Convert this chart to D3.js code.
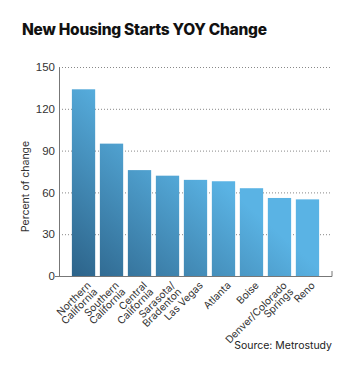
<!DOCTYPE html>
<meta charset="utf-8">
<style>
body { margin: 0; background: #fff; }
svg { font-family: "Inter", "Roboto", sans-serif; }
.grid line { stroke: #888; stroke-dasharray: 1,2; }
.axis text { fill: #333; font-size: 11.5px; }
.xlab { fill: #333; font-size: 10.2px; }
</style>
<svg width="354" height="366"></svg>
<script src="https://d3js.org/d3.v7.min.js"></script>
<script>

var regions = [["Northern", "California"], ["Southern", "California"], ["Central", "California"],
  ["Sarasota/", "Bradenton"], ["Las Vegas"], ["Atlanta"], ["Boise"], ["Denver/Colorado", "Springs"], ["Reno"]];
var change = [134, 95, 76, 72, 69, 68, 63, 56, 55];
var yTicks = [0, 30, 60, 90, 120, 150];

var svg = d3.select("svg");
var plotL = 59, plotR = 332, plotT = 67, plotB = 276;

var x = d3.scaleBand().domain(d3.range(regions.length)).range([plotL, plotR])
    .paddingInner(0.168).paddingOuter(0.46);
var y = d3.scaleLinear().domain([0, 150]).range([plotB, plotT]);

// gradient darker bottom-left, lighter up-right
var grad = svg.append("defs").append("linearGradient")
    .attr("id", "barfill").attr("gradientUnits", "userSpaceOnUse")
    .attr("x1", 70).attr("y1", 280).attr("x2", 185).attr("y2", 150);
grad.append("stop").attr("offset", 0).attr("stop-color", "#2b6187");
grad.append("stop").attr("offset", 1).attr("stop-color", "#5ab3e4");

svg.append("text")
    .attr("x", 22).attr("y", 35)
    .attr("font-size", 15.5).attr("font-weight", 800)
    .attr("fill", "#111")
    .attr("textLength", 245)
    .text("New Housing Starts YOY Change");

// gridlines
svg.append("g").attr("class", "grid")
  .selectAll("line").data(yTicks.slice(1)).enter().append("line")
    .attr("x1", plotL).attr("x2", plotR)
    .attr("y1", function(d) { return y(d) + 0.5; })
    .attr("y2", function(d) { return y(d) + 0.5; });

svg.selectAll(".bar").data(change).enter().append("rect")
    .attr("class", "bar")
    .attr("x", function(d, i) { return x(i); })
    .attr("y", function(d) { return y(d); })
    .attr("width", x.bandwidth())
    .attr("height", function(d) { return plotB - y(d); })
    .attr("fill", "url(#barfill)");

// y axis
var ya = svg.append("g").attr("class", "axis")
    .attr("transform", "translate(" + plotL + ",0)")
    .call(d3.axisLeft(y).tickValues(yTicks).tickSize(0).tickPadding(4));
ya.select(".domain").attr("stroke", "#777");

// x axis line with upturned end
svg.append("path")
    .attr("d", "M55," + (plotB + 0.5) + "H" + plotR + "V" + (plotB - 5))
    .attr("fill", "none").attr("stroke", "#777");

svg.append("text")
    .attr("transform", "translate(29," + ((plotT + plotB) / 2 + 15) + ") rotate(-90)")
    .attr("text-anchor", "middle")
    .attr("font-size", 10.5).attr("fill", "#333")
    .text("Percent of change");

var lab = svg.selectAll(".xlab").data(regions).enter().append("text")
    .attr("class", "xlab")
    .attr("text-anchor", "end")
    .attr("transform", function(d, i) {
      return "translate(" + (x(i) + x.bandwidth() / 2 + 3) + "," + (plotB + 5) + ") rotate(-45)";
    });
lab.selectAll("tspan").data(function(d) { return d; }).enter().append("tspan")
    .attr("x", 0)
    .attr("dy", function(d, i) { return i === 0 ? "0.7em" : "0.9em"; })
    .text(function(d) { return d; });

svg.append("text")
    .attr("x", plotR).attr("y", 349)
    .attr("text-anchor", "end")
    .attr("font-size", 10.5).attr("fill", "#222")
    .text("Source: Metrostudy");

</script>
